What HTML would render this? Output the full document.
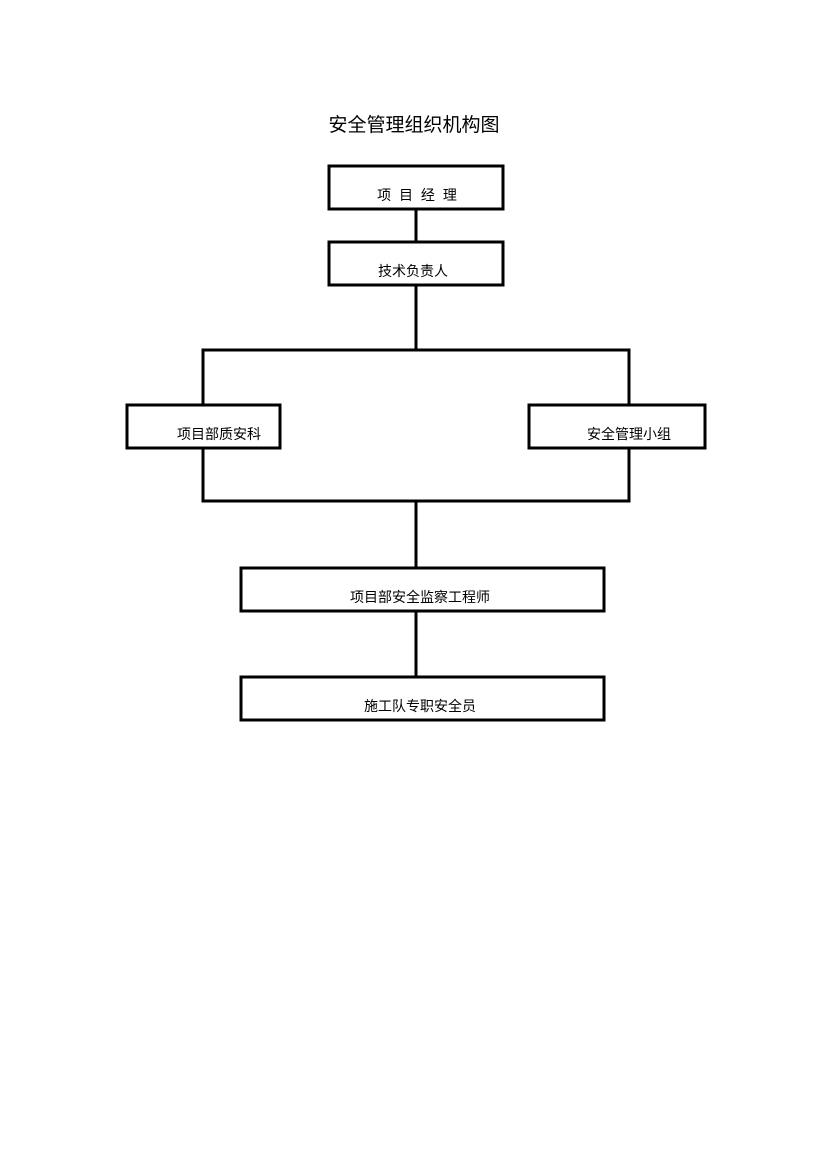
<!DOCTYPE html>
<html><head><meta charset="utf-8"><style>
html,body{margin:0;padding:0;background:#fff;}
svg{display:block}
text{font-family:"Liberation Sans","Noto Sans CJK SC",sans-serif;fill:#000}
</style></head><body>
<svg width="830" height="1173" viewBox="0 0 830 1173" xmlns="http://www.w3.org/2000/svg">
<text x="414" y="131" font-size="19" text-anchor="middle">安全管理组织机构图</text>
<g fill="none" stroke="#000" stroke-width="3">
<rect x="329" y="166" width="174" height="43"/>
<rect x="329" y="242" width="174" height="43"/>
<line x1="416" y1="209" x2="416" y2="242"/>
<line x1="416" y1="285" x2="416" y2="350"/>
<polyline points="203,404 203,350 629,350 629,404"/>
<rect x="127" y="405" width="153" height="43"/>
<rect x="529" y="405" width="176" height="43"/>
<polyline points="203,448 203,501 629,501 629,448"/>
<line x1="416" y1="501" x2="416" y2="568"/>
<rect x="241" y="568" width="363" height="43"/>
<line x1="416" y1="611" x2="416" y2="677"/>
<rect x="241" y="677" width="363" height="43"/>
</g>
<g font-size="14" text-anchor="middle">
<text x="418" y="200" letter-spacing="2">项 目 经 理</text>
<text x="413" y="276">技术负责人</text>
<text x="219" y="439">项目部质安科</text>
<text x="629" y="439">安全管理小组</text>
<text x="420" y="602">项目部安全监察工程师</text>
<text x="420" y="711">施工队专职安全员</text>
</g>
</svg>
</body></html>
